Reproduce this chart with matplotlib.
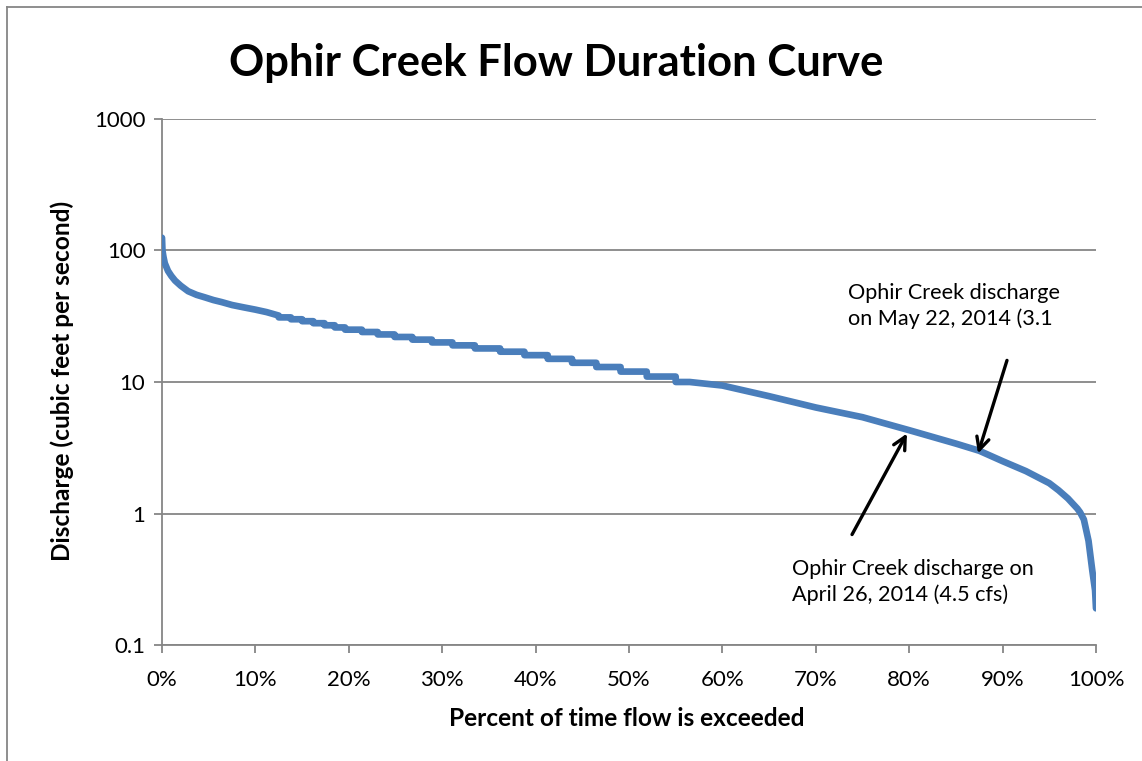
import numpy as np
import matplotlib
matplotlib.use("Agg")
import matplotlib.pyplot as plt

plt.rcParams['font.family'] = ['Lato', 'DejaVu Sans']

# upper smooth part of the curve (percent exceeded, cfs)
upper_pct = [0.0, 0.05, 0.15, 0.3, 0.64, 1.0, 1.4, 2.0, 2.8, 3.7, 4.6, 5.5, 6.4, 7.5, 8.7, 10.0, 11.2, 12.5]
upper_q = [125, 100, 90, 80, 70, 64, 59, 54, 49, 46, 44, 42, 40.5, 38.5, 37, 35.5, 34, 32]

# middle part: flows recorded as whole cfs -> stairs
stair_q = [31, 30, 29, 28, 27, 26, 25, 24, 23, 22, 21, 20, 19, 18, 17, 16, 15, 14, 13, 12, 11, 10]
stair_start = [12.5, 13.8, 15.0, 16.2, 17.4, 18.5, 19.6, 21.4, 23.1, 24.9, 26.8, 28.9, 31.1,
               33.5, 36.2, 38.8, 41.3, 43.9, 46.5, 49.1, 51.9, 55.0]
stair_end_last = 56.5

# lower smooth part
lower_pct = [56.5, 60, 65, 70, 75, 80, 85, 87.5, 90, 92.5, 95, 96, 97, 97.5, 98, 98.3, 98.7,
             99.0, 99.2, 99.6, 99.9, 100]
lower_q = [10, 9.4, 7.8, 6.4, 5.4, 4.3, 3.4, 3.0, 2.5, 2.1, 1.7, 1.5, 1.3, 1.19, 1.09, 1.02, 0.9,
           0.72, 0.62, 0.37, 0.26, 0.19]

y_ticks = [0.1, 1, 10, 100, 1000]
y_labels = ['0.1', '1', '10', '100', '1000']
x_ticks = list(range(0, 101, 10))
x_labels = [f'{t}%' for t in x_ticks]

# assemble curve
xs, ys = list(upper_pct), list(upper_q)
ends = stair_start[1:] + [stair_end_last]
for q, s, e in zip(stair_q, stair_start, ends):
    xs += [s, e]
    ys += [q, q]
xs += lower_pct[1:]
ys += lower_q[1:]

W, H = 1142, 761
fig = plt.figure(figsize=(W / 100, H / 100), dpi=100)
ax = fig.add_axes([162 / W, 1 - 645 / H, (1096 - 162) / W, (645 - 119) / H])

grey = '#868686'
ax.plot(xs, ys, color='#4a7ebb', lw=4.8, solid_joinstyle='round', solid_capstyle='round', zorder=3)

ax.set_yscale('log')
ax.set_xlim(0, 100)
ax.set_ylim(0.1, 1000)
ax.set_yticks(y_ticks)
ax.set_yticklabels(y_labels)
ax.yaxis.set_minor_locator(matplotlib.ticker.NullLocator())
ax.set_xticks(x_ticks)
ax.set_xticklabels(x_labels)
ax.grid(axis='y', color=grey, lw=1.3)
ax.set_axisbelow(True)
for s in ['top', 'right']:
    ax.spines[s].set_visible(False)
for s in ['left', 'bottom']:
    ax.spines[s].set_color(grey)
    ax.spines[s].set_linewidth(1.3)
ax.tick_params(axis='both', direction='out', length=6, width=1.3, color=grey, labelsize=16)
ax.tick_params(axis='x', pad=12)
ax.tick_params(axis='y', pad=6)

fig.text(556 / W, 1 - 63 / H, 'Ophir Creek Flow Duration Curve', ha='center', va='center',
         fontsize=31.4, fontweight='bold')
fig.text(627 / W, 1 - 718 / H, 'Percent of time flow is exceeded', ha='center', va='center',
         fontsize=17.6, fontweight='bold')
fig.text(62 / W, 1 - 381 / H, 'Discharge (cubic feet per second)', ha='center', va='center',
         rotation=90, fontsize=17.6, fontweight='bold')

fig.text(848 / W, 1 - 306 / H, 'Ophir Creek discharge\non May 22, 2014 (3.1', ha='left', va='center',
         fontsize=15.6, linespacing=1.3)
fig.text(792 / W, 1 - 582 / H, 'Ophir Creek discharge on\nApril 26, 2014 (4.5 cfs)', ha='left', va='center',
         fontsize=15.6, linespacing=1.3)

arrow = dict(arrowstyle='->,head_length=0.9,head_width=0.45', lw=2.4, color='black', shrinkA=0, shrinkB=0)
ax.annotate('', xy=(87.37, 2.86), xytext=(90.47, 14.6), arrowprops=arrow)
ax.annotate('', xy=(79.76, 4.06), xytext=(73.88, 0.692), arrowprops=arrow)

# chart border (top and left visible)
fig.add_artist(plt.Line2D([7 / W, 1], [1 - 7 / H, 1 - 7 / H], color=grey, lw=1.3))
fig.add_artist(plt.Line2D([7 / W, 7 / W], [0, 1 - 7 / H], color=grey, lw=1.3))

fig.savefig('out.png', dpi=100)
